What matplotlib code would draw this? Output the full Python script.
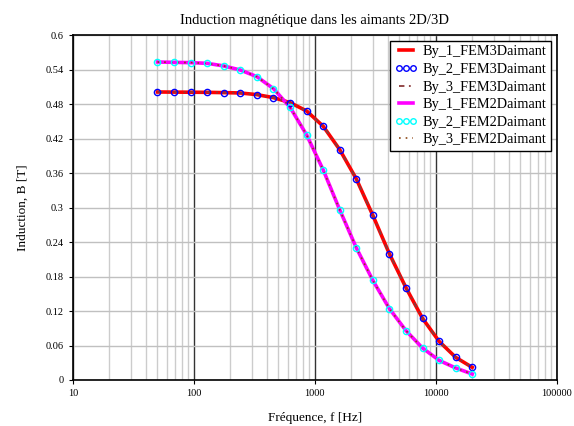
import matplotlib
matplotlib.use('Agg')
import matplotlib.pyplot as plt
from matplotlib.ticker import FixedLocator, LogLocator, NullFormatter

plt.rcParams['font.family'] = ['Liberation Serif', 'DejaVu Serif']

# frequences [Hz]
freq = [50, 69, 94, 129, 177, 242, 332, 455, 624, 855,
        1172, 1606, 2202, 3018, 4137, 5671, 7773, 10655, 14605, 20000]

# induction 3D [T]
b_fem3 = [0.5014, 0.5012, 0.5010, 0.5008, 0.5003, 0.4997, 0.4968, 0.4916, 0.4829, 0.4684,
          0.4418, 0.4010, 0.3501, 0.2865, 0.2195, 0.1605, 0.1072, 0.0672, 0.0394, 0.0220]

# induction 2D [T]
b_fem2 = [0.5536, 0.5530, 0.5525, 0.5513, 0.5467, 0.5397, 0.5281, 0.5072, 0.4748, 0.4267,
          0.3658, 0.2962, 0.2301, 0.1733, 0.1241, 0.0858, 0.0556, 0.0341, 0.0209, 0.0104]

y_ticks = [0, 0.06, 0.12, 0.18, 0.24, 0.3, 0.36, 0.42, 0.48, 0.54, 0.6]
y_tick_labels = ['0', '0.06', '0.12', '0.18', '0.24', '0.3', '0.36', '0.42', '0.48', '0.54', '0.6']
x_ticks = [10, 100, 1000, 10000, 100000]
x_tick_labels = ['10', '100', '1000', '10000', '100000']

fig = plt.figure(figsize=(5.74, 4.26), dpi=100)
ax = fig.add_axes([0.127, 0.108, 0.843, 0.809])

ax.plot(freq, b_fem3, color='#ff0000', lw=2.6, label='By_1_FEM3Daimant', zorder=3)
ax.plot(freq, b_fem3, ls='none', marker='o', ms=4.5, mfc='none', mec='#0000ff', mew=1,
        label='By_2_FEM3Daimant', zorder=5)
ax.plot(freq, b_fem3, color='#8b3a3a', lw=1.3, ls=(0, (3, 2.5, 1, 2.5)), label='By_3_FEM3Daimant',
        zorder=4)
ax.plot(freq, b_fem2, color='#ff00ff', lw=2.6, label='By_1_FEM2Daimant', zorder=3)
ax.plot(freq, b_fem2, ls='none', marker='o', ms=4.5, mfc='none', mec='#00ffff', mew=1,
        label='By_2_FEM2Daimant', zorder=5)
ax.plot(freq, b_fem2, color='#8b4513', lw=1.2, ls=(0, (1, 3)), label='By_3_FEM2Daimant', zorder=4)

ax.set_xscale('log')
ax.set_xlim(10, 100000)
ax.set_ylim(0, 0.6)
ax.xaxis.set_major_locator(FixedLocator(x_ticks))
ax.set_xticklabels(x_tick_labels)
ax.xaxis.set_minor_locator(LogLocator(base=10, subs=range(2, 10)))
ax.xaxis.set_minor_formatter(NullFormatter())
ax.set_yticks(y_ticks)
ax.set_yticklabels(y_tick_labels)

ax.grid(True, which='major', axis='x', color='#333333', lw=1)
ax.grid(True, which='minor', axis='x', color='#cccccc', lw=1)
ax.grid(True, which='major', axis='y', color='#c0c0c0', lw=1)
ax.set_axisbelow(True)

ax.tick_params(axis='both', which='major', labelsize=7.5, length=3, width=0.8)
ax.tick_params(axis='x', which='minor', length=0)
for s in ax.spines.values():
    s.set_linewidth(1.2)

ax.set_title('Induction magnétique dans les aimants 2D/3D', fontsize=10.5, pad=8)
ax.set_xlabel('Fréquence, f [Hz]', fontsize=9.5, labelpad=10)
ax.set_ylabel('Induction, B [T]', fontsize=9.5, labelpad=12)

leg = ax.legend(loc='upper right', fontsize=10.3, numpoints=3, handlelength=1.6,
                fancybox=False, framealpha=1, edgecolor='black', borderpad=0.3,
                labelspacing=0.32, handletextpad=0.4, borderaxespad=0.4)
leg.get_frame().set_linewidth(1)
for h in leg.legend_handles:
    h.set_markersize(4)

plt.savefig('out.png', dpi=100)
plt.close()
